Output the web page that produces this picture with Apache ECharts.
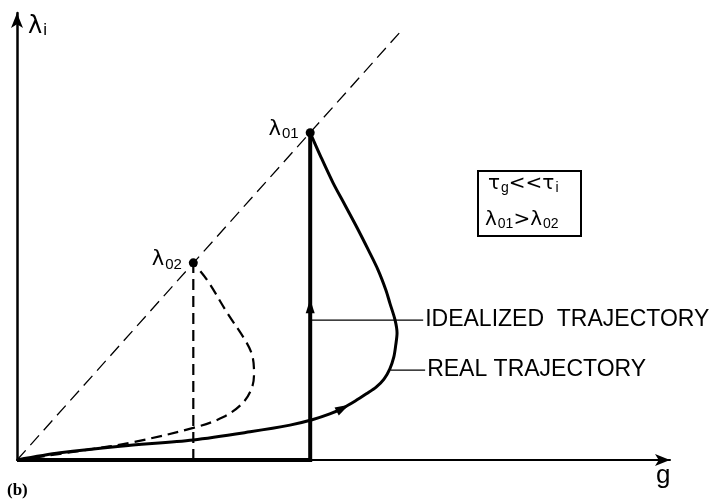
<!DOCTYPE html>
<html>
<head>
<meta charset="utf-8">
<script src="https://cdn.jsdelivr.net/npm/echarts@6/dist/echarts.min.js"></script>
<style>
  html, body { margin: 0; padding: 0; background: #fff; }
  #chart { width: 721px; height: 503px; }
</style>
</head>
<body>
<div id="chart"></div>
<script>
// Growth-rate diagram: lambda_i against g, two trajectories starting from the origin.
const diagonal = [[0, 0], [59.2, 96.6]];
const lambda01 = [44.9, 73.2];
const lambda02 = [27.0, 44.1];

// idealized path for lambda01: along the g axis, then straight up
const idealized01 = [[0, 0], [44.9, 0], [44.9, 73.2]];
// idealized path for lambda02 (dashed)
const idealized02 = [[27.0, 0], [27.0, 44.1]];

// real trajectory towards lambda01 (solid)
const real01 = [
  [0, 0], [6.6, 1.6], [15.8, 3.1], [27.0, 4.5], [35.7, 6.3], [41.8, 7.8],
  [45.2, 9.0], [47.9, 10.3], [49.9, 11.6], [51.8, 13.2], [53.5, 14.8],
  [55.0, 16.3], [56.2, 18.1], [57.1, 20.4], [57.7, 23.0], [58.0, 25.7],
  [58.2, 28.4], [57.9, 31.3], [57.1, 35.1], [56.5, 38.0], [55.3, 42.5],
  [53.8, 47.0], [52.1, 51.9], [50.2, 57.1], [48.4, 62.0], [46.6, 67.6],
  [44.9, 73.2]
];
// real trajectory towards lambda02 (dashed)
const real02 = [
  [0, 0], [10.4, 2.2], [17.8, 4.0], [27.0, 7.2], [31.6, 9.6], [34.6, 12.8],
  [36.0, 16.3], [36.3, 19.5], [36.0, 23.5], [34.9, 26.9], [32.2, 32.9],
  [29.1, 40.3], [27.0, 44.1]
];

// direction arrows: [x, y, rotation]
const arrowIdealized = [44.9, 34.4, 0];
const arrowReal = [49.9, 11.6, -62];

// callout leaders
const leaderIdealized = [[44.9, 31.3], [62.2, 31.3]];
const leaderReal = [[57.2, 20.1], [62.5, 20.1]];
const calloutTexts = ['IDEALIZED  TRAJECTORY', 'REAL TRAJECTORY'];

const FONT = 'Liberation Sans';
const INK = '#000';

const chart = echarts.init(document.getElementById('chart'), null, { renderer: 'canvas' });

function leaderSeries(pts, text) {
  return {
    type: 'line', silent: true, symbol: 'none', animation: false,
    lineStyle: { color: INK, width: 1.3 },
    endLabel: {
      show: true, distance: 2, formatter: text,
      color: INK, fontFamily: FONT, fontSize: 23
    },
    data: pts
  };
}

const subRich = {
  l: { fontFamily: 'DejaVu Sans', fontSize: 21, color: INK },
  s: { fontFamily: FONT, fontSize: 15, color: INK, padding: [9, 0, 0, 1] }
};

chart.setOption({
  animation: false,
  backgroundColor: '#fff',
  grid: { left: 17, top: 13, width: 653, height: 447 },
  xAxis: {
    type: 'value', min: 0, max: 100,
    name: 'g', nameLocation: 'end', nameGap: -14,
    nameTextStyle: { fontFamily: FONT, fontSize: 26, color: INK, align: 'left', verticalAlign: 'top', padding: [3, 0, 0, 0] },
    axisLine: { lineStyle: { color: INK, width: 2 }, symbol: ['none', 'arrow'], symbolSize: [9, 15] },
    axisTick: { show: false }, axisLabel: { show: false }, splitLine: { show: false }
  },
  yAxis: {
    type: 'value', min: 0, max: 100,
    name: '{l|λ}{s|i}', nameLocation: 'end', nameGap: -26,
    nameTextStyle: {
      align: 'left', verticalAlign: 'bottom', padding: [0, 0, 0, 11],
      rich: {
        l: { fontFamily: 'DejaVu Sans', fontSize: 24, color: INK },
        s: { fontFamily: FONT, fontSize: 17, color: INK, padding: [8, 0, 0, 1] }
      }
    },
    axisLine: { lineStyle: { color: INK, width: 2.5 }, symbol: ['none', 'arrow'], symbolSize: [9, 15] },
    axisTick: { show: false }, axisLabel: { show: false }, splitLine: { show: false }
  },
  series: [
    {
      type: 'line', symbol: 'none', silent: true,
      lineStyle: { color: INK, width: 1.3, type: [13, 7] },
      data: diagonal
    },
    {
      type: 'line', symbol: 'none', silent: true,
      lineStyle: { color: INK, width: 2.2, type: [11, 6] },
      data: idealized02
    },
    {
      type: 'line', symbol: 'none', silent: true, smooth: 0.35,
      lineStyle: { color: INK, width: 2.2, type: [11, 6] },
      data: real02
    },
    {
      type: 'line', symbol: 'none', silent: true,
      lineStyle: { color: INK, width: 4, join: 'miter' },
      data: idealized01
    },
    {
      type: 'line', symbol: 'none', silent: true, smooth: 0.3,
      lineStyle: { color: INK, width: 3 },
      data: real01
    },
    leaderSeries(leaderIdealized, calloutTexts[0]),
    leaderSeries(leaderReal, calloutTexts[1]),
    {
      type: 'scatter', silent: true, symbol: 'triangle',
      itemStyle: { color: INK, opacity: 1 },
      data: [arrowIdealized, arrowReal].map(a => ({
        value: [a[0], a[1]], symbolRotate: a[2], symbolSize: [9, 14]
      }))
    },
    {
      type: 'scatter', silent: true, symbol: 'circle', symbolSize: 9,
      itemStyle: { color: INK, opacity: 1 },
      label: {
        show: true, position: 'left', distance: 7, offset: [0, -3],
        color: INK, rich: subRich
      },
      data: [
        { value: lambda01, label: { formatter: '{l|λ}{s|01}' } },
        { value: lambda02, label: { formatter: '{l|λ}{s|02}' } }
      ]
    }
  ],
  graphic: [
    {
      type: 'rect', silent: true,
      shape: { x: 478, y: 171, width: 103, height: 65 },
      style: { fill: 'none', stroke: INK, lineWidth: 2 }
    },
    {
      type: 'text', silent: true, left: 488, top: 174,
      style: {
        text: '{l|τ}{s|g}{l|<<τ}{s|i}',
        rich: {
          l: { fontFamily: 'DejaVu Sans', fontSize: 20, color: INK },
          s: { fontFamily: FONT, fontSize: 14, color: INK, padding: [8, 0, 0, 1] }
        }
      }
    },
    {
      type: 'text', silent: true, left: 485, top: 210,
      style: {
        text: '{l|λ}{s|01}{l|>λ}{s|02}',
        rich: {
          l: { fontFamily: 'DejaVu Sans', fontSize: 20, color: INK },
          s: { fontFamily: FONT, fontSize: 14, color: INK, padding: [8, 0, 0, 1] }
        }
      }
    },
    {
      type: 'text', silent: true, left: 7, top: 482,
      style: { text: '(b)', fontFamily: 'Liberation Serif', fontWeight: 'bold', fontSize: 17, fill: INK }
    }
  ]
});
</script>
</body>
</html>
